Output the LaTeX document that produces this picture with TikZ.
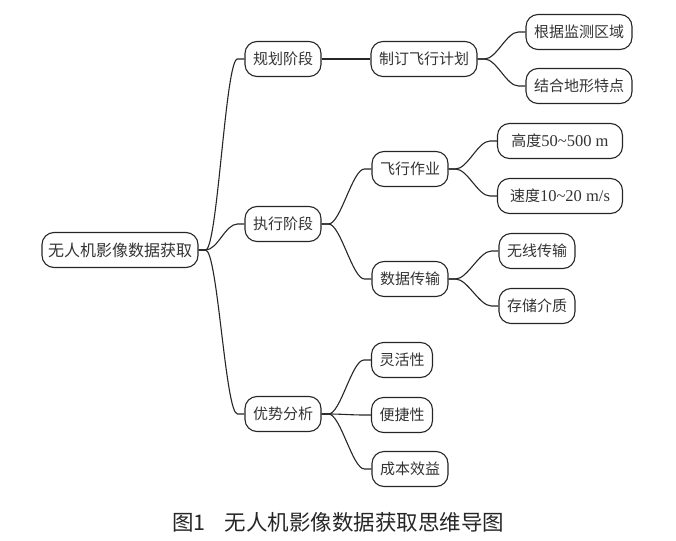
\documentclass[tikz,border=0pt]{standalone}
\usepackage{fontspec}
\setmainfont{Liberation Serif}
\newfontfamily\cjk{Noto Sans CJK SC}
\usetikzlibrary{calc}
\newcommand\latinpart[1]{{\rmfamily\fontsize{16.5pt}{18pt}\selectfont #1}}
\begin{document}
\begin{tikzpicture}[x=1pt,y=-1pt,
  box/.style={draw=black!85, line width=1.1pt, rounded corners=12pt, minimum height=35pt,
    inner xsep=8pt, inner ysep=0pt, font=\cjk\fontsize{15pt}{18pt}\selectfont, text=black!80},
  branch/.style={line width=1.1pt, draw=black!85,
    to path={(\tikztostart.east) -- ++(7pt,0) .. controls +(12pt,0) and +(-12pt,0) .. ([xshift=-7pt]\tikztotarget.west) -- (\tikztotarget.west)}}]
\useasboundingbox (0,0) rectangle (676,540);
\node[box, font=\cjk\fontsize{16pt}{19pt}\selectfont, inner xsep=6pt] (root) at (120,250) {无人机影像数据获取};
\node[box] (plan) at (283,59) {规划阶段};
\node[box] (exec) at (283,224) {执行阶段};
\node[box] (adv) at (283,414) {优势分析};
\node[box] (make) at (424,59) {制订飞行计划};
\node[box] (area) at (579,32) {根据监测区域};
\node[box] (terr) at (579,86) {结合地形特点};
\node[box] (fly) at (410,169) {飞行作业};
\node[box, minimum width=125pt] (alt) at (560,141) {高度\latinpart{50\textasciitilde500 m}};
\node[box, minimum width=125pt] (spd) at (560,196) {速度\latinpart{10\textasciitilde20 m/s}};
\node[box] (trans) at (410,279) {数据传输};
\node[box] (wless) at (537,251) {无线传输};
\node[box] (store) at (537,306) {存储介质};
\node[box] (flex) at (402,360) {灵活性};
\node[box] (conv) at (402,415) {便捷性};
\node[box] (cost) at (410,469) {成本效益};
\draw[branch] (root) to (plan);
\draw[branch] (root) to (exec);
\draw[branch] (root) to (adv);
\draw[branch] (plan) to (make);
\draw[branch] (make) to (area);
\draw[branch] (make) to (terr);
\draw[branch] (exec) to (fly);
\draw[branch] (exec) to (trans);
\draw[branch] (fly) to (alt);
\draw[branch] (fly) to (spd);
\draw[branch] (trans) to (wless);
\draw[branch] (trans) to (store);
\draw[branch] (adv) to (flex);
\draw[branch] (adv) to (conv);
\draw[branch] (adv) to (cost);
\node[font=\cjk\fontsize{21.5pt}{24pt}\selectfont, text=black!85, anchor=west, inner xsep=0pt] (cap) at (172,522) {图1\hspace{0.9em}无人机影像数据获取思维导图};
\end{tikzpicture}
\end{document}
